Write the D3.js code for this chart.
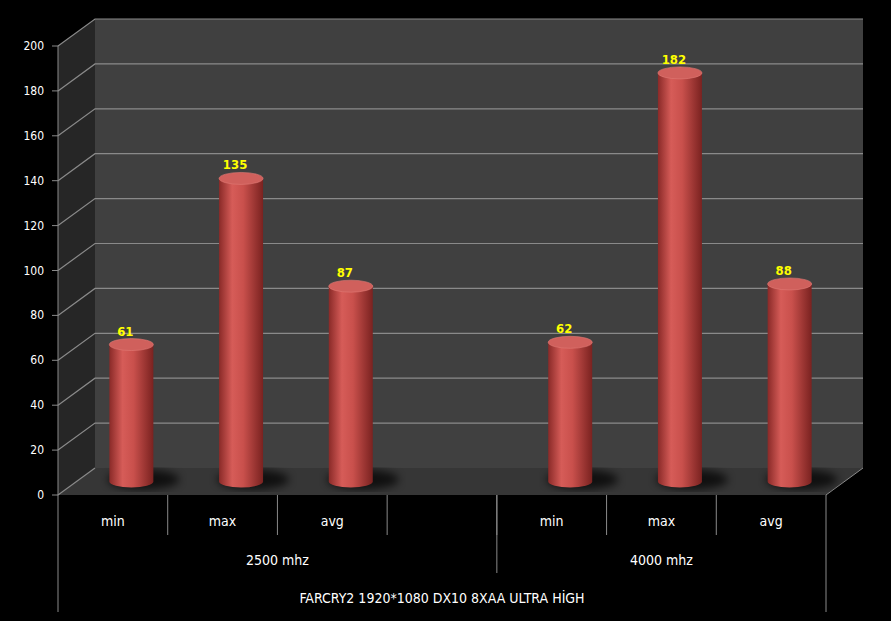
<!DOCTYPE html>
<html><head><meta charset="utf-8">
<script src="https://cdn.jsdelivr.net/npm/d3@7"></script>
<style>body{margin:0;background:#000}text{font-family:"DejaVu Sans Condensed","Liberation Sans",sans-serif}</style>
</head><body>
<script>
var categories = ['min', 'max', 'avg', '', 'min', 'max', 'avg'];
var values = [61, 135, 87, null, 62, 182, 88];
var groups = ['2500 mhz', '4000 mhz'];
var yTicks = [0, 20, 40, 60, 80, 100, 120, 140, 160, 180, 200];
var title = 'FARCRY2 1920*1080 DX10 8XAA  ULTRA HİGH';

var W = 891, H = 621;
var x0 = 58, x1 = 826, yFront0 = 495, yFront200 = 46;
var dx = 37, dy = -27;

var svg = d3.select('body').append('svg').attr('width', W).attr('height', H);
var defs = svg.append('defs');
var g = defs.append('linearGradient').attr('id', 'cyl');
g.append('stop').attr('offset', '0%').attr('stop-color', '#8a2a28');
g.append('stop').attr('offset', '30%').attr('stop-color', '#d65c58');
g.append('stop').attr('offset', '55%').attr('stop-color', '#c9504c');
g.append('stop').attr('offset', '100%').attr('stop-color', '#7a2220');
defs.append('filter').attr('id', 'blur').append('feGaussianBlur').attr('stdDeviation', 4);

var y = d3.scaleLinear().domain([0, 200]).range([yFront0, yFront200]);
var x = d3.scaleBand().domain(d3.range(categories.length)).range([x0, x1]);

// back wall
svg.append('rect').attr('x', x0 + dx).attr('y', y(200) + dy).attr('width', x1 - x0).attr('height', y(0) - y(200)).attr('fill', '#404040');
// side wall
svg.append('path').attr('d', 'M' + x0 + ',' + y(0) + 'L' + x0 + ',' + y(200) + 'L' + (x0 + dx) + ',' + (y(200) + dy) + 'L' + (x0 + dx) + ',' + (y(0) + dy) + 'Z').attr('fill', '#262626');
// floor
svg.append('path').attr('d', 'M' + x0 + ',' + y(0) + 'L' + (x0 + dx) + ',' + (y(0) + dy) + 'L' + (x1 + dx) + ',' + (y(0) + dy) + 'L' + x1 + ',' + y(0) + 'Z').attr('fill', '#363636');

// gridlines
yTicks.forEach(function (t) {
  var path = 'M' + x0 + ',' + y(t) + 'L' + (x0 + dx) + ',' + (y(t) + dy);
  if (t > 0) path += 'L' + (x1 + dx) + ',' + (y(t) + dy);
  svg.append('path').attr('d', path).attr('fill', 'none').attr('stroke', '#8a8a8a').attr('stroke-width', 1.2);
});
svg.append('path').attr('d', 'M' + x1 + ',' + y(0) + 'L' + (x1 + dx) + ',' + (y(0) + dy)).attr('stroke', '#8a8a8a');
svg.append('line').attr('x1', x0).attr('x2', x0).attr('y1', y(0)).attr('y2', y(200)).attr('stroke', '#8a8a8a');

// y axis labels
svg.selectAll('.yt').data(yTicks).enter().append('text')
  .attr('x', 44).attr('y', function (d) { return y(d) + 4; }).attr('text-anchor', 'end')
  .attr('fill', '#fff').attr('font-size', 12).text(function (d) { return d; });
svg.selectAll('.ytk').data(yTicks).enter().append('line')
  .attr('x1', 52).attr('x2', x0).attr('y1', function (d) { return y(d); }).attr('y2', function (d) { return y(d); })
  .attr('stroke', '#8a8a8a');

// bars
var bw = 44, ry = 6;
var bars = values.map(function (v, i) { return { v: v, i: i }; }).filter(function (d) { return d.v != null; });
var cx = function (d) { return x(d.i) + x.bandwidth() / 2 + dx / 2; };
var yb = function (v) { return y(v) + dy / 2; };
svg.selectAll('.sh').data(bars).enter().append('ellipse')
  .attr('cx', function (d) { return cx(d) + 12; }).attr('cy', yb(0) - 2)
  .attr('rx', bw / 2 + 14).attr('ry', 10).attr('fill', '#000').attr('opacity', 0.7).attr('filter', 'url(#blur)');
var bg = svg.selectAll('.bar').data(bars).enter().append('g');
bg.append('path').attr('d', function (d) {
  var l = cx(d) - bw / 2, r = cx(d) + bw / 2, t = yb(d.v), b = yb(0);
  return 'M' + l + ',' + t + 'L' + l + ',' + b + 'A' + (bw / 2) + ',' + ry + ' 0 0 0 ' + r + ',' + b + 'L' + r + ',' + t + 'Z';
}).attr('fill', 'url(#cyl)');
bg.append('ellipse').attr('cx', cx).attr('cy', function (d) { return yb(d.v); })
  .attr('rx', bw / 2).attr('ry', ry).attr('fill', '#d0605c').attr('stroke', '#e07a76').attr('stroke-width', 0.6);
bg.append('text').attr('x', function (d) { return cx(d) - 6; }).attr('y', function (d) { return yb(d.v) - 9; })
  .attr('text-anchor', 'middle').attr('fill', '#ffff00').attr('font-weight', 'bold').attr('font-size', 13)
  .text(function (d) { return d.v; });

// x axis table
var ln = function (xa, ya, yb2) { svg.append('line').attr('x1', xa).attr('x2', xa).attr('y1', ya).attr('y2', yb2).attr('stroke', '#8a8a8a'); };
ln(x0, y(0), 612); ln(x1, y(0), 612);
for (var i = 1; i < categories.length; i++) ln(x(i), y(0), 535);
ln(x(4), y(0), 573);
svg.selectAll('.xc').data(categories).enter().append('text')
  .attr('x', function (d, i) { return x(i) + x.bandwidth() / 2; }).attr('y', 526)
  .attr('text-anchor', 'middle').attr('fill', '#fff').attr('font-size', 14).text(function (d) { return d; });
svg.selectAll('.xg').data(groups).enter().append('text')
  .attr('x', function (d, i) { return i === 0 ? (x0 + x(4)) / 2 : (x(4) + x1) / 2; }).attr('y', 565)
  .attr('text-anchor', 'middle').attr('fill', '#fff').attr('font-size', 14).text(function (d) { return d; });
svg.append('text').attr('x', (x0 + x1) / 2).attr('y', 603).attr('text-anchor', 'middle')
  .attr('fill', '#fff').attr('font-size', 14).text(title);
</script>
</body></html>
